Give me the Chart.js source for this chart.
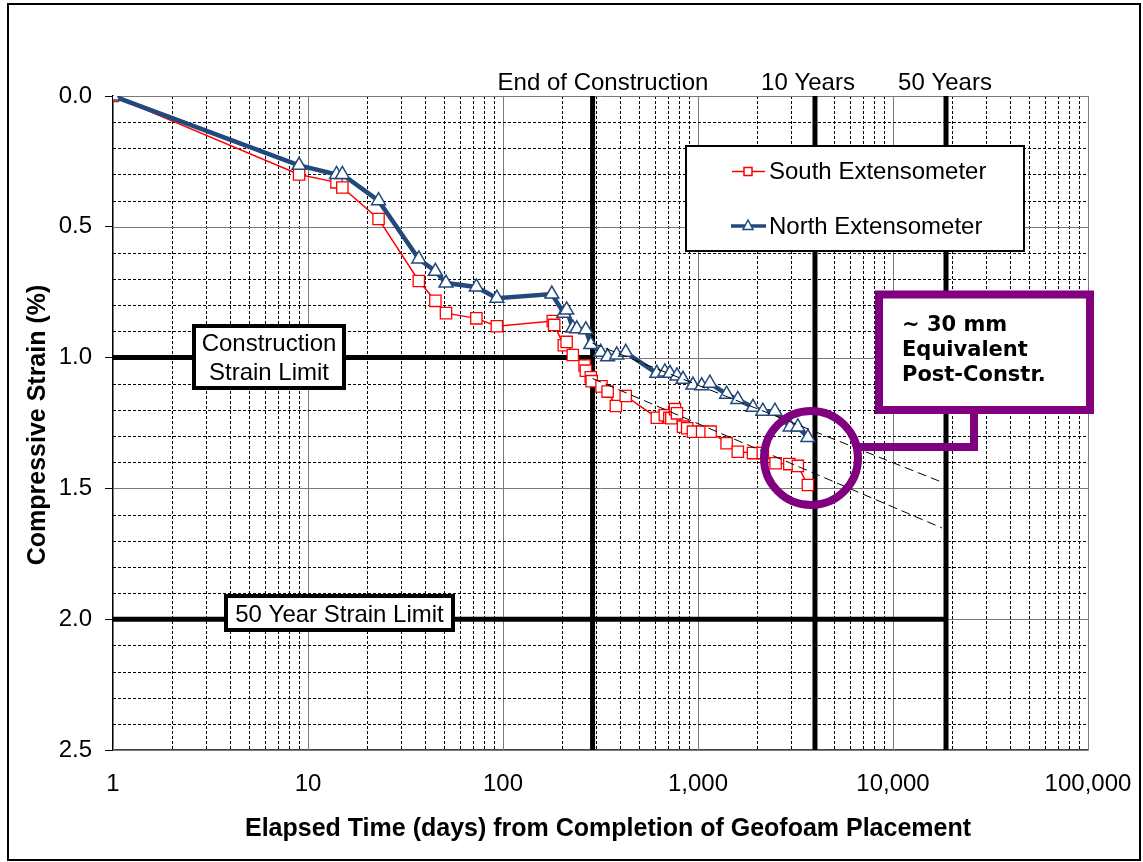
<!DOCTYPE html>
<html><head><meta charset="utf-8">
<script src="https://cdn.jsdelivr.net/npm/chart.js@4.4.1/dist/chart.umd.min.js"></script>
<style>html,body{margin:0;padding:0;background:#fff;} #wrap{width:1143px;height:862px;position:relative;}</style>
</head><body><div id="wrap"><canvas id="c" width="1143" height="862"></canvas></div>
<script>
// ---- data ----
const southDays = [1, 9, 14, 15, 23, 37, 45, 51, 73, 93, 180, 183, 205, 212, 228, 262, 266, 282, 285, 320, 344, 379, 426, 615, 676, 713, 730, 762, 780, 838, 880, 942, 1050, 1160, 1402, 1600, 1914, 2150, 2500, 2940, 3250, 3660];
const southStrain = [0, 0.30, 0.33, 0.35, 0.47, 0.707, 0.783, 0.83, 0.85, 0.88, 0.86, 0.875, 0.953, 0.94, 0.99, 1.03, 1.05, 1.075, 1.09, 1.11, 1.13, 1.185, 1.147, 1.23, 1.22, 1.23, 1.232, 1.197, 1.213, 1.264, 1.27, 1.283, 1.283, 1.283, 1.327, 1.36, 1.365, 1.365, 1.404, 1.407, 1.414, 1.487];
const northDays = [1, 9, 14, 15, 23, 37, 45, 51, 73, 93, 178, 205, 212, 228, 239, 266, 282, 317, 344, 383, 426, 615, 676, 718, 780, 838, 942, 1045, 1150, 1402, 1600, 1914, 2150, 2480, 2970, 3250, 3660];
const northStrain = [0, 0.265, 0.30, 0.30, 0.40, 0.623, 0.67, 0.715, 0.73, 0.773, 0.757, 0.83, 0.818, 0.887, 0.89, 0.894, 0.95, 0.98, 0.997, 0.99, 0.98, 1.06, 1.055, 1.06, 1.07, 1.083, 1.105, 1.108, 1.098, 1.14, 1.16, 1.19, 1.205, 1.205, 1.265, 1.265, 1.305];
const trendDays = [288, 17800];
const northTrend = [0.945, 1.476];
const southTrend = [1.08, 1.651];
const xTickValues = [1, 10, 100, 1000, 10000, 100000];
const yTickValues = [0, 0.5, 1.0, 1.5, 2.0, 2.5];
const milestoneDays = [288, 3980, 18700];
const milestoneLabels = ['End of Construction', '10 Years', '50 Years'];
const limitStrains = [1.0, 2.0];
const limitEndDays = [288, 18700];
const limitLabels = [['Construction', 'Strain Limit'], ['50 Year Strain Limit']];
const seriesNames = ['South Extensometer', 'North Extensometer'];
const calloutLines = ['~ 30 mm', 'Equivalent', 'Post-Constr.'];
const xTitle = 'Elapsed Time (days) from Completion of Geofoam Placement';
const yTitle = 'Compressive Strain (%)';

const RED = '#FF0000', NAVY = '#22487C', PURPLE = '#800080';
const FONT = '"Liberation Sans", Arial, sans-serif';

const pts = (xs, ys) => xs.map((x, i) => ({x: x, y: ys[i]}));

const decor = {
  id: 'decor',
  beforeDatasetsDraw(chart) {
    const ctx = chart.ctx, a = chart.chartArea;
    const xs = chart.scales.x, ys = chart.scales.y;
    ctx.save();
    for (let e = 0; e <= 5; e++) {
      for (let k = 1; k <= 9; k++) {
        const v = k * Math.pow(10, e);
        if (v > 100000) break;
        const px = Math.round(xs.getPixelForValue(v)) + 0.5;
        ctx.beginPath();
        if (k === 1) { ctx.setLineDash([]); ctx.strokeStyle = '#7a7a7a'; }
        else { ctx.setLineDash([3, 2]); ctx.strokeStyle = '#000'; }
        ctx.lineWidth = 1;
        ctx.moveTo(px, a.top); ctx.lineTo(px, a.bottom); ctx.stroke();
      }
    }
    for (let i = 0; i <= 25; i++) {
      const py = Math.round(ys.getPixelForValue(i / 10)) + 0.5;
      ctx.beginPath();
      if (i % 5 === 0) { ctx.setLineDash([]); ctx.strokeStyle = '#7a7a7a'; }
      else { ctx.setLineDash([3, 2]); ctx.strokeStyle = '#000'; }
      ctx.lineWidth = 1;
      ctx.moveTo(a.left, py); ctx.lineTo(a.right, py); ctx.stroke();
    }
    ctx.setLineDash([]);
    ctx.strokeStyle = '#000'; ctx.lineWidth = 5;
    milestoneDays.forEach(d => {
      const px = xs.getPixelForValue(d);
      ctx.beginPath(); ctx.moveTo(px, a.top); ctx.lineTo(px, a.bottom); ctx.stroke();
    });
    limitStrains.forEach((s, i) => {
      const py = ys.getPixelForValue(s);
      ctx.beginPath(); ctx.moveTo(a.left, py); ctx.lineTo(xs.getPixelForValue(limitEndDays[i]), py); ctx.stroke();
    });
    ctx.restore();
  },
  afterDatasetsDraw(chart) {
    const ctx = chart.ctx;
    ctx.save();
    const boxes = [{x: 194, y: 326, w: 150, h: 62}, {x: 226, y: 596, w: 227, h: 34}];
    boxes.forEach((b, i) => {
      ctx.fillStyle = '#fff'; ctx.fillRect(b.x, b.y, b.w, b.h);
      ctx.strokeStyle = '#000'; ctx.lineWidth = 4; ctx.strokeRect(b.x, b.y, b.w, b.h);
      ctx.fillStyle = '#000'; ctx.font = '24px ' + FONT; ctx.textAlign = 'center'; ctx.textBaseline = 'middle';
      const lines = limitLabels[i];
      const lh = 29;
      const cy = b.y + b.h / 2 + 2;
      lines.forEach((t, j) => ctx.fillText(t, b.x + b.w / 2, cy + (j - (lines.length - 1) / 2) * lh));
    });
    const mlx = [603, 808, 945];
    ctx.font = '24px ' + FONT; ctx.fillStyle = '#000'; ctx.textAlign = 'center'; ctx.textBaseline = 'middle';
    milestoneLabels.forEach((t, i) => ctx.fillText(t, mlx[i], 83));
    ctx.fillStyle = '#fff'; ctx.fillRect(686, 146, 338, 105);
    ctx.strokeStyle = '#000'; ctx.lineWidth = 2; ctx.strokeRect(686, 146, 338, 105);
    ctx.strokeStyle = RED; ctx.lineWidth = 1.5;
    ctx.beginPath(); ctx.moveTo(732, 171.5); ctx.lineTo(765, 171.5); ctx.stroke();
    ctx.fillStyle = '#fff'; ctx.fillRect(744, 167.5, 8, 8); ctx.strokeRect(744, 167.5, 8, 8);
    ctx.strokeStyle = NAVY; ctx.lineWidth = 3.5;
    ctx.beginPath(); ctx.moveTo(731, 226); ctx.lineTo(766, 226); ctx.stroke();
    ctx.lineWidth = 1.5; ctx.fillStyle = '#fff';
    ctx.beginPath(); ctx.moveTo(748, 220); ctx.lineTo(753, 229.5); ctx.lineTo(743, 229.5); ctx.closePath(); ctx.fill(); ctx.stroke();
    ctx.fillStyle = '#000'; ctx.font = '24px ' + FONT; ctx.textAlign = 'left'; ctx.textBaseline = 'middle';
    ctx.fillText(seriesNames[0], 769, 172);
    ctx.fillText(seriesNames[1], 769, 227);
    ctx.strokeStyle = PURPLE; ctx.lineWidth = 8; ctx.lineJoin = 'miter';
    ctx.fillStyle = '#fff'; ctx.fillRect(879, 294.5, 211, 115.5);
    ctx.strokeRect(879, 294.5, 211, 115.5);
    ctx.beginPath(); ctx.arc(811, 458, 47, 0, Math.PI * 2); ctx.stroke();
    ctx.beginPath(); ctx.moveTo(856, 447); ctx.lineTo(974, 447); ctx.lineTo(974, 410); ctx.stroke();
    ctx.fillStyle = '#000'; ctx.font = 'bold 21px "DejaVu Sans", Verdana, sans-serif'; ctx.textAlign = 'left'; ctx.textBaseline = 'alphabetic';
    [331, 356, 381].forEach((y, i) => ctx.fillText(calloutLines[i], 902, y));
    ctx.font = 'bold 25px ' + FONT; ctx.textAlign = 'center'; ctx.textBaseline = 'middle';
    ctx.fillText(xTitle, 608, 829);
    ctx.save(); ctx.translate(38, 425); ctx.rotate(-Math.PI / 2); ctx.fillText(yTitle, 0, 0); ctx.restore();
    ctx.strokeStyle = '#000'; ctx.lineWidth = 2; ctx.strokeRect(8, 4, 1132, 856);
    ctx.restore();
  }
};

new Chart(document.getElementById('c'), {
  type: 'scatter',
  data: {
    datasets: [
      {label: 'North trend', data: pts(trendDays, northTrend), showLine: true, borderColor: '#000', borderWidth: 1, borderDash: [9, 5], pointRadius: 0, order: 0},
      {label: 'South trend', data: pts(trendDays, southTrend), showLine: true, borderColor: '#000', borderWidth: 1, borderDash: [9, 5], pointRadius: 0, order: 0},
      {label: seriesNames[1], data: pts(northDays, northStrain), showLine: true, borderColor: NAVY, borderWidth: 4.5,
        pointStyle: 'triangle', pointRadius: 8, pointBackgroundColor: '#fff', pointBorderColor: NAVY, pointBorderWidth: 1.5, order: 1},
      {label: seriesNames[0], data: pts(southDays, southStrain), showLine: true, borderColor: RED, borderWidth: 1.5,
        pointStyle: 'rect', pointRadius: 8, pointBackgroundColor: '#fff', pointBorderColor: RED, pointBorderWidth: 1.3, order: 2}
    ]
  },
  options: {
    responsive: false, animation: false,
    layout: {padding: {left: 0, top: 96, right: 55, bottom: 0}},
    plugins: {legend: {display: false}, tooltip: {enabled: false}},
    scales: {
      x: {
        type: 'logarithmic', min: 1, max: 100000,
        afterFit: s => { s.height = 112; s.paddingLeft = 0; s.paddingRight = 0; },
        afterBuildTicks: s => { s.ticks = xTickValues.map(v => ({value: v})); },
        grid: {display: false, drawTicks: false},
        border: {display: true, color: '#444', width: 1.5},
        ticks: {autoSkip: false, maxRotation: 0, padding: 20, color: '#000', font: {family: FONT, size: 24},
          callback: v => Number(v).toLocaleString('en-US')}
      },
      y: {
        type: 'linear', reverse: true, min: 0, max: 2.5,
        afterFit: s => { s.width = 113; s.paddingTop = 0; s.paddingBottom = 0; },
        afterBuildTicks: s => { s.ticks = yTickValues.map(v => ({value: v})); },
        grid: {display: true, drawOnChartArea: false, drawTicks: true, tickLength: 8, color: '#000'},
        border: {display: true, color: '#000', width: 1.5},
        ticks: {padding: 13, color: '#000', font: {family: FONT, size: 24}, callback: v => Number(v).toFixed(1)}
      }
    }
  },
  plugins: [decor]
});
</script></body></html>
